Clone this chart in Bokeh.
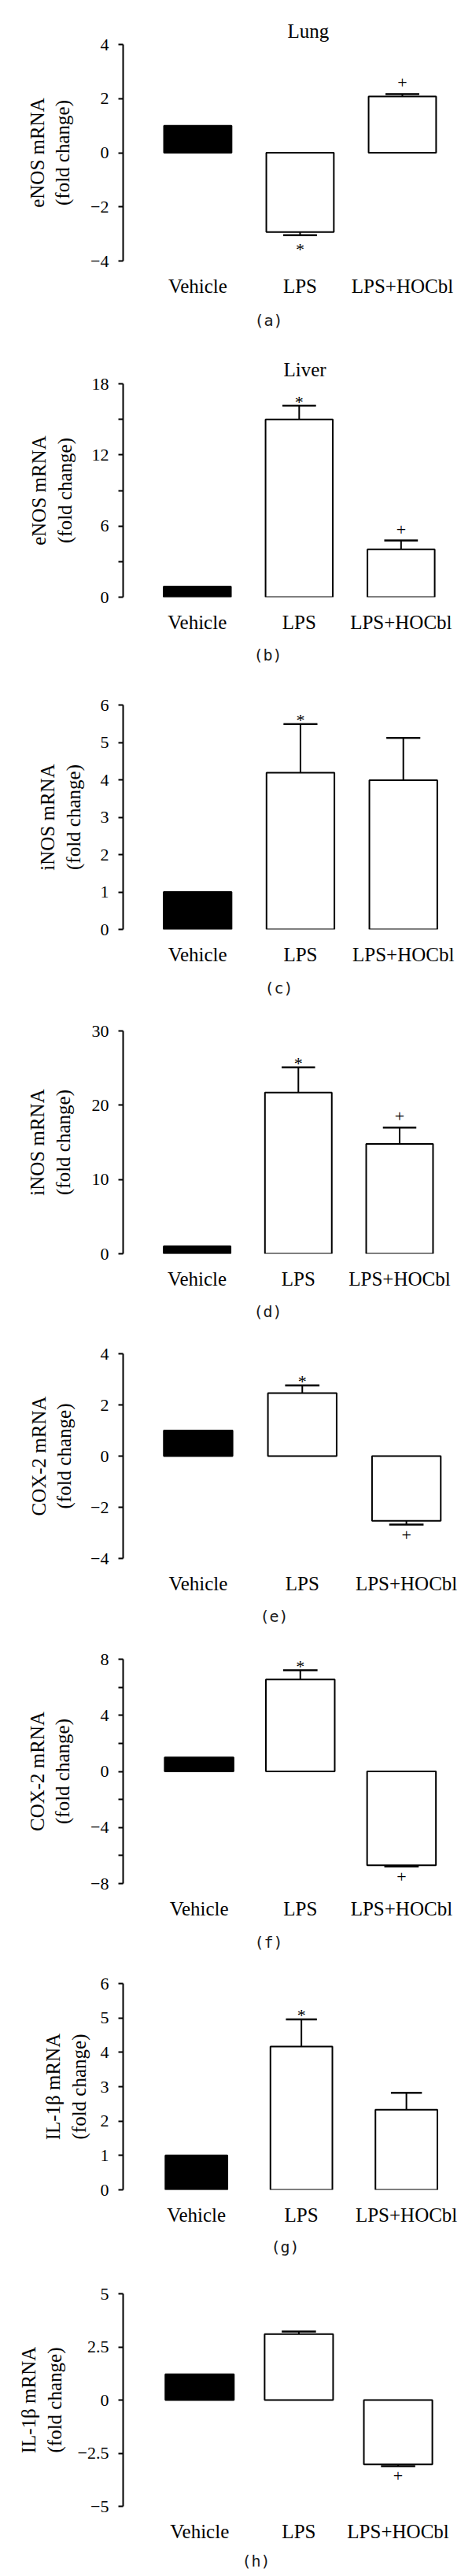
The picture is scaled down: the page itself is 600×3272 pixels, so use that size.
from bokeh.plotting import figure
from bokeh.layouts import column
from bokeh.models import Range1d, FixedTicker, CustomJSTickFormatter, Title
from bokeh.embed import file_html
from bokeh.resources import INLINE
from bokeh.core.properties import value

# ---------------- data ----------------
categories = ["Vehicle", "LPS", "LPS+HOCbl"]
panel_tags = ["(a)", "(b)", "(c)", "(d)", "(e)", "(f)", "(g)", "(h)"]
panel_titles = ["Lung", "Liver", "", "", "", "", "", ""]
y_labels = [
    "eNOS mRNA\n(fold change)", "eNOS mRNA\n(fold change)",
    "iNOS mRNA\n(fold change)", "iNOS mRNA\n(fold change)",
    "COX-2 mRNA\n(fold change)", "COX-2 mRNA\n(fold change)",
    "IL-1β mRNA\n(fold change)", "IL-1β mRNA\n(fold change)",
]

means_a = [1.0, -2.93, 2.08]
means_b = [0.9, 15.0, 4.03]
means_c = [1.0, 4.19, 3.99]
means_d = [1.0, 21.7, 14.8]
means_e = [1.0, 2.46, -2.53]
means_f = [1.0, 6.56, -6.70]
means_g = [1.0, 4.17, 2.33]
means_h = [1.21, 3.10, -3.03]

errors_a = [0.0, 0.12, 0.09]
errors_b = [0.0, 1.16, 0.75]
errors_c = [0.0, 1.30, 1.13]
errors_d = [0.0, 3.4, 2.2]
errors_e = [0.0, 0.30, 0.15]
errors_f = [0.0, 0.66, 0.08]
errors_g = [0.0, 0.79, 0.49]
errors_h = [0.0, 0.12, 0.08]

signif_a = ["", "*", "+"]
signif_b = ["", "*", "+"]
signif_c = ["", "*", ""]
signif_d = ["", "*", "+"]
signif_e = ["", "*", "+"]
signif_f = ["", "*", "+"]
signif_g = ["", "*", ""]
signif_h = ["", "", "+"]

y_limits = [(-4, 4), (0, 18), (0, 6), (0, 30), (-4, 4), (-8, 8), (0, 6), (-5, 5)]
y_major_ticks = [
    [-4, -2, 0, 2, 4], [0, 6, 12, 18], [0, 1, 2, 3, 4, 5, 6], [0, 10, 20, 30],
    [-4, -2, 0, 2, 4], [-8, -4, 0, 4, 8], [0, 1, 2, 3, 4, 5, 6], [-5, -2.5, 0, 2.5, 5],
]
y_minor_ticks = [[], [3, 9, 15], [], [], [], [-6, -2, 2, 6], [], []]

means = [means_a, means_b, means_c, means_d, means_e, means_f, means_g, means_h]
errors = [errors_a, errors_b, errors_c, errors_d, errors_e, errors_f, errors_g, errors_h]
signifs = [signif_a, signif_b, signif_c, signif_d, signif_e, signif_f, signif_g, signif_h]

# ---------------- layout / style ----------------
SERIF = "Liberation Serif"
MONO = "DejaVu Sans Mono"
PAGE_W = 600
bands = [(0, 432), (432, 855), (855, 1278), (1278, 1688), (1688, 2075),
         (2075, 2490), (2490, 2876), (2876, 3272)]
frames = [  # left, top, bottom (page px)
    (138.5, 55.7, 335.7), (141, 487.3, 768.3), (126, 894.7, 1186.7),
    (141, 1309, 1597.3), (133, 1718.7, 1985.7), (137, 2107.3, 2395.7),
    (119, 2519, 2789), (156, 2913.3, 3186),
]
x_starts = [-0.730, -0.728, -0.724, -0.731, -0.721, -0.751, -0.698, -0.771]
cat_spacing_px = [135.3, 133.9, 139.6, 133.05, 139.2, 134.15, 144.6, 126.15]
bar_widths = [0.66, 0.66, 0.66, 0.66, 0.66, 0.68, 0.59, 0.69]
label_standoffs = [19, 18, 18, 20, 17, 19, 11, 13]
tag_left = [305, 307, 306, 307, 307, 304, 307, 307]        # page x of tag text start
tag_standoff = [27, 23, 24, 22, 22, 24, 21, 15]
title_left = [347, 345, None, None, None, None, None, None]
title_standoff = [7, 10, 0, 0, 0, 0, 0, 0]
marker_offsets = {("*", 1): -5, ("+", 1): -14, ("*", -1): 18, ("+", -1): 13}

minus_fmt = "return (tick < 0 ? '\u2212' : '') + String(Math.abs(tick));"

figs = []
for k in range(8):
    b0, b1 = bands[k]
    fl, ft, fb = frames[k]
    H = b1 - b0
    mbl = int(round(fl))
    mbt = int(round(ft - b0))
    fh = int(round(fb - ft))
    mbb = H - mbt - fh
    xs = x_starts[k]
    xe = xs + (PAGE_W - mbl) / cat_spacing_px[k]
    ys, ye = y_limits[k]
    FL = mbl

    p = figure(width=PAGE_W, height=H, min_border_left=mbl, min_border_right=0,
               min_border_top=mbt, min_border_bottom=mbb,
               x_range=Range1d(xs, xe), y_range=Range1d(ys, ye),
               output_backend="svg", toolbar_location=None)
    p.outline_line_color = None
    p.xgrid.visible = False
    p.ygrid.visible = False

    # title (panel heading)
    if panel_titles[k]:
        p.title.text = panel_titles[k]
        p.title.align = "left"
        p.title.offset = title_left[k] - FL
        p.title.standoff = title_standoff[k]
        p.title.text_font = SERIF
        p.title.text_font_size = "25px"
        p.title.text_font_style = "normal"
        p.title.text_color = "black"

    # y axis
    ya = p.yaxis[0]
    ya.ticker = FixedTicker(ticks=y_major_ticks[k], minor_ticks=y_minor_ticks[k])
    ya.formatter = CustomJSTickFormatter(code=minus_fmt)
    ya.axis_line_width = 2
    ya.axis_line_color = "black"
    ya.major_tick_line_width = 2
    ya.major_tick_line_color = "black"
    ya.major_tick_in = 0
    ya.major_tick_out = 6
    ya.minor_tick_line_width = 2
    ya.minor_tick_line_color = "black"
    ya.minor_tick_in = 0
    ya.minor_tick_out = 6
    ya.major_label_standoff = 12
    ya.major_label_text_font = SERIF
    ya.major_label_text_font_size = "22px"
    ya.major_label_text_color = "black"
    ya.axis_label = y_labels[k]
    ya.axis_label_text_font = SERIF
    ya.axis_label_text_font_size = "25px"
    ya.axis_label_text_font_style = "normal"
    ya.axis_label_text_color = "black"
    ya.axis_label_standoff = label_standoffs[k]

    # x axis (categories)
    xa = p.xaxis[0]
    xa.ticker = FixedTicker(ticks=list(range(len(categories))))
    xa.major_label_overrides = {i: c for i, c in enumerate(categories)}
    xa.axis_line_color = None
    xa.major_tick_line_color = None
    xa.minor_tick_line_color = None
    xa.major_label_standoff = 12
    xa.major_label_text_font = SERIF
    xa.major_label_text_font_size = "25px"
    xa.major_label_text_color = "black"

    # panel tag below the category labels
    p.add_layout(Title(text=panel_tags[k], align="left", offset=tag_left[k] - FL,
                       standoff=tag_standoff[k], text_font=MONO,
                       text_font_size="20px", text_font_style="normal",
                       text_color="#1a1a1a"), "below")

    xpos = list(range(len(categories)))
    vals = means[k]
    fills = ["black" if i == 0 else "white" for i in xpos]
    p.vbar(x=xpos, top=vals, bottom=0, width=bar_widths[k], fill_color=fills,
           line_color="black", line_width=2)

    # one-sided error bars
    cap = bar_widths[k] * 0.5
    sx0, sx1, sy0, sy1 = [], [], [], []
    cx0, cx1, cy = [], [], []
    tx, ty, tt, toff = [], [], [], []
    for i, (m, e) in enumerate(zip(vals, errors[k])):
        sgn = 1 if m >= 0 else -1
        end = m + sgn * e
        if e > 0:
            sx0.append(i); sx1.append(i); sy0.append(m); sy1.append(end)
            cx0.append(i - cap / 2); cx1.append(i + cap / 2); cy.append(end)
        s = signifs[k][i]
        if s:
            tx.append(i); ty.append(end); tt.append(s)
            toff.append(marker_offsets[(s, sgn)])
    p.segment(x0=sx0, y0=sy0, x1=sx1, y1=sy1, line_color="black", line_width=2)
    p.segment(x0=cx0, y0=cy, x1=cx1, y1=cy, line_color="black", line_width=2.5)
    if tt:
        p.text(x=tx, y=ty, text=tt, y_offset=toff, text_align="center",
               text_baseline="middle", text_font=value(SERIF),
               text_font_size="22px", text_color="black")
    figs.append(p)

layout = column(*figs)
open("out.html", "w").write(file_html(layout, INLINE))
